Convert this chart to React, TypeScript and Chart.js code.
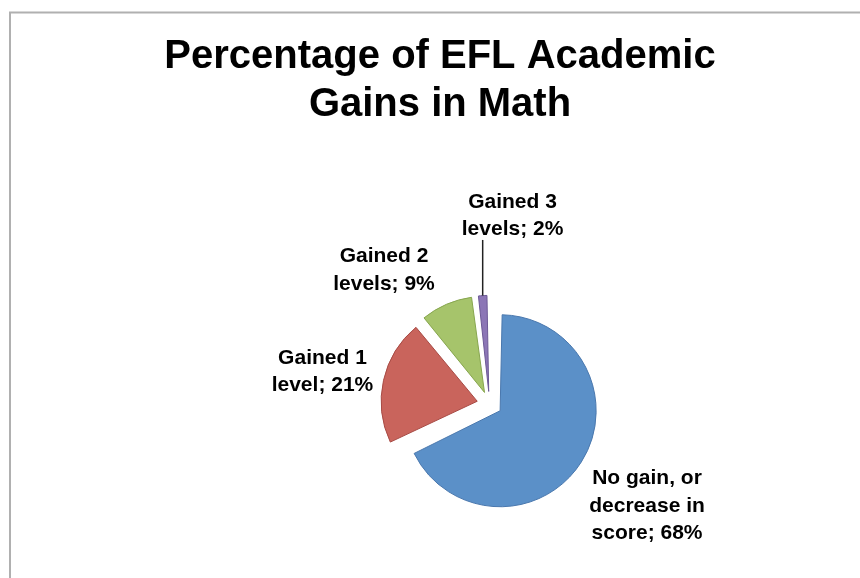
import React, { useEffect, useRef } from "react";
import { Chart, registerables } from "chart.js";

Chart.register(...registerables);

// ---- data ----
const categories = [
  "No gain, or decrease in score",
  "Gained 1 level",
  "Gained 2 levels",
  "Gained 3 levels",
];
const values = [68, 21, 9, 2];
const labelLines = [
  ["No gain, or", "decrease in", "score"],
  ["Gained 1", "level"],
  ["Gained 2", "levels"],
  ["Gained 3", "levels"],
];
const titleLines = ["Percentage of EFL Academic", "Gains in Math"];

// ---- styling / layout ----
const fillColors = ["#5b90c8", "#c9645c", "#a6c46b", "#8c76b6"];
const borderColors = ["#4a78ae", "#a84b45", "#87a64f", "#6d5996"];
const RADIUS = 96;
const EXPLODE = 12.6;
const PIE_CENTER = { x: 489.5, y: 404 };
const LABEL_FONT = "bold 21px 'Liberation Sans', Arial, sans-serif";
const LABEL_LINE_H = 27.5;
// label anchors relative to pie centre, in units of the radius
const labelAnchors = [
  [1.641, 1.0625],
  [-1.74, -0.336],
  [-1.099, -1.396],
  [0.24, -1.964],
];
const leaderLines = [false, false, false, true];

const framePlugin = {
  id: "frame",
  beforeDraw(chart: any) {
    const ctx = chart.ctx;
    ctx.save();
    ctx.fillStyle = "#ffffff";
    ctx.fillRect(0, 0, chart.width, chart.height);
    ctx.strokeStyle = "#b0b0b0";
    ctx.lineWidth = 2;
    ctx.beginPath();
    ctx.moveTo(10, chart.height);
    ctx.lineTo(10, 12.5);
    ctx.lineTo(chart.width, 12.5);
    ctx.stroke();
    ctx.restore();
  },
};

const piePlacement = {
  id: "piePlacement",
  afterLayout(chart: any) {
    const w = 500;
    const h = 340;
    Object.assign(chart.chartArea, {
      left: PIE_CENTER.x - w / 2,
      right: PIE_CENTER.x + w / 2,
      top: PIE_CENTER.y - h / 2,
      bottom: PIE_CENTER.y + h / 2,
      width: w,
      height: h,
    });
  },
  afterDatasetsUpdate(chart: any) {
    const meta = chart.getDatasetMeta(0);
    meta.data.forEach((arc: any) => {
      const fix = 1 - Math.sin(Math.min(Math.PI, arc.circumference));
      arc.outerRadius = RADIUS - EXPLODE * fix;
    });
  },
};

const labelPlugin = {
  id: "sliceLabels",
  afterDraw(chart: any) {
    const ctx = chart.ctx;
    const meta = chart.getDatasetMeta(0);
    ctx.save();
    ctx.font = LABEL_FONT;
    ctx.fillStyle = "#000000";
    ctx.textAlign = "center";
    ctx.textBaseline = "middle";
    meta.data.forEach((arc: any, i: number) => {
      const lx = arc.x + labelAnchors[i][0] * RADIUS;
      const ly = arc.y + labelAnchors[i][1] * RADIUS;
      const lines = [...labelLines[i]];
      lines[lines.length - 1] += "; " + values[i] + "%";
      const n = lines.length;
      lines.forEach((t, k) => {
        ctx.fillText(t, lx, ly + (k - (n - 1) / 2) * LABEL_LINE_H);
      });
      if (leaderLines[i]) {
        const mid = (arc.startAngle + arc.endAngle) / 2;
        const ox = arc.x + Math.cos(mid) * (EXPLODE + RADIUS);
        const oy = arc.y + Math.sin(mid) * (EXPLODE + RADIUS);
        ctx.strokeStyle = "#222222";
        ctx.lineWidth = 1.5;
        ctx.beginPath();
        ctx.moveTo(ox, ly + (n / 2) * LABEL_LINE_H - 3);
        ctx.lineTo(ox, oy);
        ctx.stroke();
      }
    });
    ctx.restore();
  },
};

export default function App() {
  const ref = useRef<HTMLCanvasElement>(null);
  useEffect(() => {
    if (!ref.current) return;
    const chart = new Chart(ref.current, {
      type: "pie",
      data: {
        labels: categories,
        datasets: [
          {
            data: values,
            backgroundColor: fillColors,
            borderColor: borderColors,
            borderWidth: 1,
            offset: EXPLODE * 4,
            hoverOffset: 0,
          },
        ],
      },
      options: {
        animation: false,
        responsive: true,
        maintainAspectRatio: false,
        radius: RADIUS,
        layout: { padding: { left: 20 } },
        plugins: {
          legend: { display: false },
          tooltip: { enabled: false },
          title: {
            display: true,
            text: titleLines,
            color: "#000000",
            font: {
              family: "'Liberation Sans', Arial, sans-serif",
              size: 40,
              weight: "bold",
              lineHeight: 1.2,
            },
            padding: { top: 33, bottom: 10 },
          },
        },
      } as any,
      plugins: [framePlugin, piePlacement, labelPlugin],
    });
    return () => chart.destroy();
  }, []);
  return (
    <div style={{ position: "fixed", left: 0, top: 0, width: 860, height: 578, background: "#fff" }}>
      <canvas ref={ref} />
    </div>
  );
}
